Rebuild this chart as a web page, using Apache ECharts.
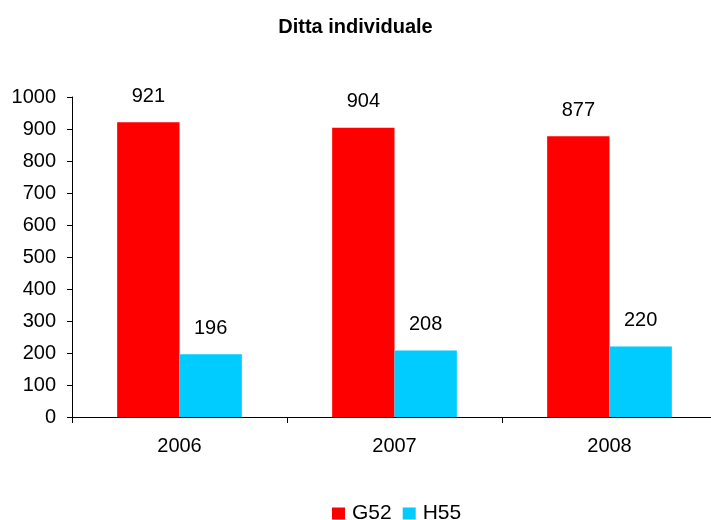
<!DOCTYPE html>
<html>
<head>
<meta charset="utf-8">
<script src="https://cdn.jsdelivr.net/npm/echarts@6/dist/echarts.min.js"></script>
<style>
html,body{margin:0;padding:0;background:#fff;}
#chart{width:711px;height:520px;}
</style>
</head>
<body>
<div id="chart"></div>
<script>
var years = ['2006', '2007', '2008'];
var g52 = [921, 904, 877];
var h55 = [196, 208, 220];
var yTicks = {min: 0, max: 1000, step: 100};

var font = '"Liberation Sans", Arial, sans-serif';
var chart = echarts.init(document.getElementById('chart'));

function barSeries(name, data, color){
	return {
		name: name,
		type: 'bar',
		data: data,
		barGap: '0%',
		barCategoryGap: '42%',
		itemStyle: {color: color},
		label: {
			show: true,
			position: 'top',
			distance: 16,
			color: '#000',
			fontFamily: font,
			fontSize: 20
		}
	};
}

var option = {
	animation: false,
	title: {
		text: 'Ditta individuale',
		left: 'center',
		top: 12,
		textStyle: {fontFamily: font, fontSize: 20, fontWeight: 'bold', color: '#000'}
	},
	legend: {
		top: 503,
		left: 332,
		padding: 0,
		itemWidth: 13,
		itemHeight: 12,
		itemGap: 11,
		icon: 'rect',
		textStyle: {fontFamily: font, fontSize: 21, color: '#000', padding: [0, 0, 0, 2]},
		data: ['G52', 'H55']
	},
	grid: {left: 72, top: 97, width: 645, height: 320, outerBoundsMode: 'none'},
	xAxis: {
		type: 'category',
		data: years,
		axisLine: {lineStyle: {color: '#000'}},
		axisTick: {show: true, length: 6, lineStyle: {color: '#000'}},
		axisLabel: {color: '#000', fontFamily: font, fontSize: 20, margin: 19}
	},
	yAxis: {
		type: 'value',
		min: yTicks.min,
		max: yTicks.max,
		interval: yTicks.step,
		axisLine: {show: true, lineStyle: {color: '#000'}},
		axisTick: {show: true, length: 5, lineStyle: {color: '#000'}},
		splitLine: {show: false},
		axisLabel: {
			color: '#000', fontFamily: font, fontSize: 20, margin: 16,
			formatter: function(v){ return String(v); }
		}
	},
	series: [
		barSeries('G52', g52, '#ff0000'),
		barSeries('H55', h55, '#00ccff')
	]
};
chart.setOption(option);
</script>
</body>
</html>
